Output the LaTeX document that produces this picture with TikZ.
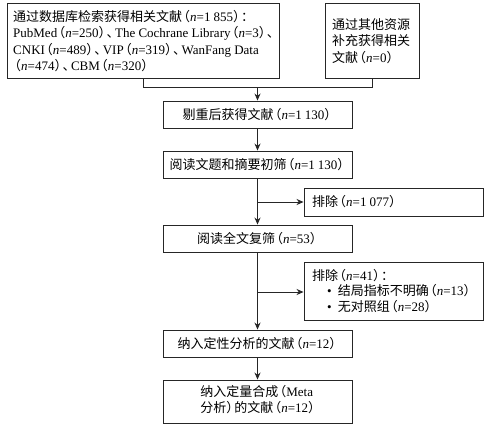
\documentclass[tikz,border=0pt]{standalone}
\usepackage{fontspec}
\setmainfont{Liberation Serif}
\newfontfamily\cjk{Noto Sans CJK SC}
\newfontfamily\cjkh[RawFeature=+halt]{Noto Sans CJK SC}
\usetikzlibrary{arrows.meta}
\newcommand\zh[1]{{\cjk #1}}
\newcommand\nn{\textit{n}}
\newcommand\lp{\hspace{1.5pt}{\cjkh （}}
\newcommand\rp{{\cjkh ）}\hspace{1.5pt}}
\newcommand\dun{{\cjkh 、}\hspace{2pt}}
\newcommand\zcolon{{\cjkh ：}}
\newcommand\ts{\hspace{3pt}}
\begin{document}
\begin{tikzpicture}[x=1pt,y=-1pt,
  box/.style={draw=black!85, line width=0.9pt, inner sep=0pt, font=\fontsize{13}{16}\selectfont},
  cbox/.style={box, align=center},
  txt/.style={inner sep=0pt, anchor=west, align=left, font=\fontsize{13}{16.5}\selectfont},
  link/.style={draw=black!85, line width=0.9pt},
  arr/.style={link, -{Stealth[length=7pt,width=6pt]}}]
\useasboundingbox (0,0) rectangle (487,428);
\fill[white] (0,0) rectangle (487,428);

\node[box, minimum width=272pt, minimum height=75pt] (b1) at (143,40.5) {};
\node[txt] (t1) at (13,41)
  {\zh{通过数据库检索获得相关文献}\lp\nn=1\ts855\rp\zcolon\\
   PubMed\lp\nn=250\rp\dun The Cochrane Library\lp\nn=3\rp\dun\\
   CNKI\lp\nn=489\rp\dun VIP\lp\nn=319\rp\dun WanFang Data\\
   \lp\nn=474\rp\dun CBM\lp\nn=320\rp};
\node[box, minimum width=94pt, minimum height=75pt] (b2) at (372,40.5) {};
\node[txt] (t2) at (332,41)
  {\zh{通过其他资源}\\\zh{补充获得相关}\\\zh{文献}\lp\nn=0\rp};

\node[cbox, minimum width=189pt, minimum height=27pt] (b3) at (257.5,114.5)
  {\zh{剔重后获得文献}\lp\nn=1\ts130\rp};
\node[cbox, minimum width=189pt, minimum height=27pt] (b4) at (257.5,164.5)
  {\zh{阅读文题和摘要初筛}\lp\nn=1\ts130\rp};
\node[box, minimum width=179pt, minimum height=28pt] (e1) at (393.5,202) {};
\node[txt] (te1) at (312,202) {\zh{排除}\lp\nn=1\ts077\rp};
\node[cbox, minimum width=189pt, minimum height=27pt] (b5) at (257.5,238.5)
  {\zh{阅读全文复筛}\lp\nn=53\rp};
\node[box, minimum width=179pt, minimum height=58pt] (e2) at (393.5,291) {};
\node[txt, font=\fontsize{13}{15.5}\selectfont] (te2) at (312,291)
  {\zh{排除}\lp\nn=41\rp\zcolon\\
   \hspace*{15pt}\textbullet\hspace{6pt}\zh{结局指标不明确}\lp\nn=13\rp\\
   \hspace*{15pt}\textbullet\hspace{6pt}\zh{无对照组}\lp\nn=28\rp};
\node[cbox, minimum width=189pt, minimum height=27pt] (b6) at (257.5,343.5)
  {\zh{纳入定性分析的文献}\lp\nn=12\rp};
\node[cbox, minimum width=189pt, minimum height=43pt] (b7) at (257.5,401.5)
  {\begin{tabular}{@{}l@{}}\zh{纳入定量合成}\lp Meta\\\zh{分析}\rp\zh{的文献}\lp\nn=12\rp\end{tabular}};

\coordinate (m) at (257.5,87);
\coordinate (j1) at (257.5,202);
\coordinate (j2) at (257.5,292);
\draw[link] (b1.south) -- (143,87) -| (b2.south);
\draw[arr] (m) -- (b3.north);
\draw[arr] (b3.south) -- (b4.north);
\draw[arr] (b4.south) -- (b5.north);
\draw[arr] (j1) -- (e1.west);
\draw[arr] (b5.south) -- (b6.north);
\draw[arr] (j2) -- (j2 -| e2.west);
\draw[arr] (b6.south) -- (b7.north);
\end{tikzpicture}
\end{document}
